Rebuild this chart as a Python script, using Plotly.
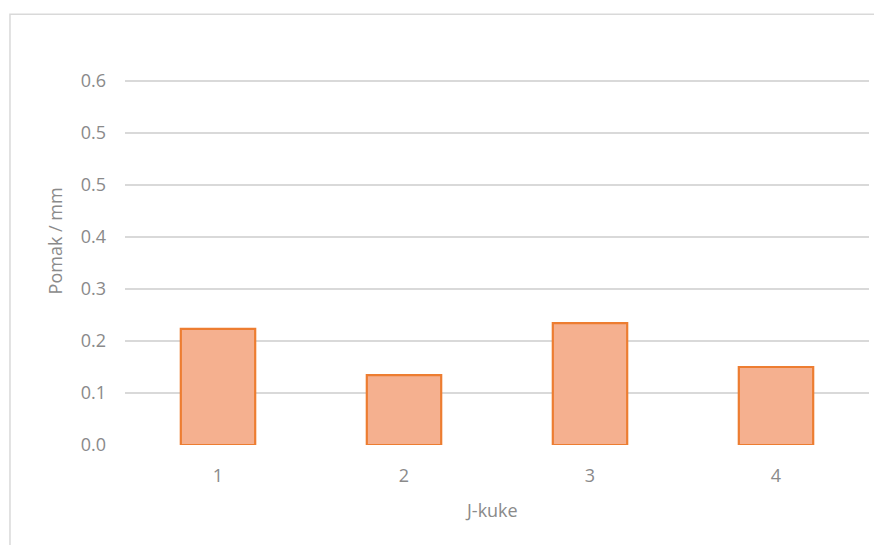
import plotly.graph_objects as go

categories = ["1", "2", "3", "4"]
values = [0.201, 0.121, 0.211, 0.135]
tick_vals = [0.0, 0.09, 0.18, 0.27, 0.36, 0.45, 0.54, 0.63]
tick_text = ["0.0", "0.1", "0.2", "0.3", "0.4", "0.5", "0.5", "0.6"]

FONT = "Open Sans"
GRAY = "#8a8a8a"
FS = 18

# The page body has an 8px default margin, so the figure is 8px smaller
# and margins are shifted to keep the plot area where the reference has it.
fig = go.Figure()
fig.add_trace(go.Bar(
    x=categories, y=values, width=0.4,
    marker=dict(color="#F5B08F", line=dict(color="#ED7D31", width=2.2)),
))

fig.update_layout(
    width=874, height=537,
    margin=dict(l=117, r=13, t=70, b=100),
    paper_bgcolor="white", plot_bgcolor="white",
    showlegend=False,
    font=dict(family=FONT, color=GRAY, size=FS),
    xaxis=dict(
        type="category", showgrid=False, zeroline=False, showline=False,
        ticks="", ticklabelstandoff=18,
        tickfont=dict(family=FONT, size=FS, color=GRAY),
    ),
    yaxis=dict(
        range=[0, 0.635], tickvals=tick_vals, ticktext=tick_text,
        showgrid=True, gridcolor="#D9D9D9", gridwidth=1.5,
        zeroline=False, showline=False, ticks="", ticklabelstandoff=18,
        tickfont=dict(family=FONT, size=FS, color=GRAY),
    ),
    shapes=[dict(
        type="rect", xref="paper", yref="paper",
        x0=-0.1546, x1=1.05, y0=-0.4, y1=1.174,
        line=dict(color="#D9D9D9", width=1.5), fillcolor="rgba(0,0,0,0)",
        layer="below",
    )],
    annotations=[
        dict(text="Pomak / mm", xref="paper", yref="paper",
             x=-0.094, y=0.555, textangle=-90, showarrow=False,
             xanchor="center", yanchor="middle",
             font=dict(family=FONT, size=FS, color=GRAY)),
        dict(text="J-kuke", xref="paper", yref="paper",
             x=0.493, y=-0.177, showarrow=False,
             xanchor="center", yanchor="middle",
             font=dict(family=FONT, size=FS, color=GRAY)),
    ],
)

fig.write_html("out.html")
